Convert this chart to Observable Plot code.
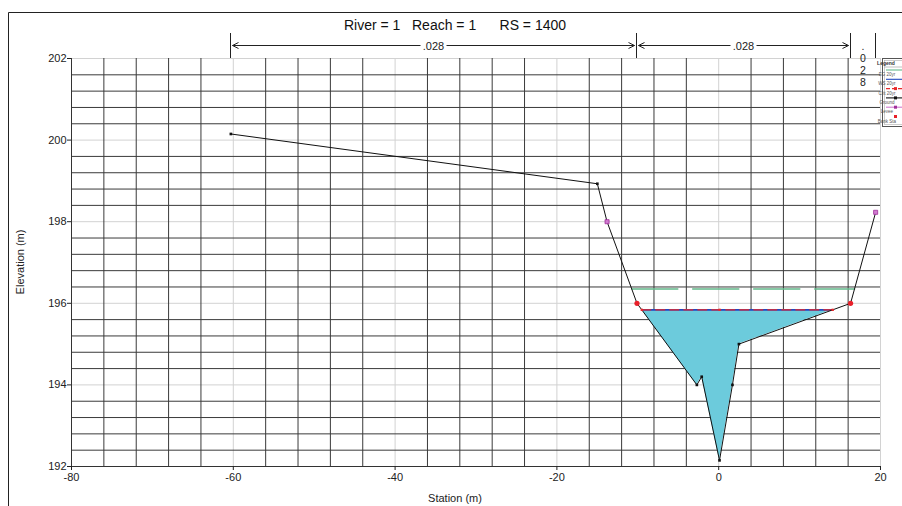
<!DOCTYPE html>
<html><head><meta charset="utf-8">
<script src="https://cdn.jsdelivr.net/npm/d3@7"></script>
<script src="https://cdn.jsdelivr.net/npm/@observablehq/plot@0.6"></script>
<style>body{margin:0;background:#fff;} svg{display:block;}</style>
</head><body><div id="chart"></div>
<script>
// ---- data ----
const titleText = "River = 1   Reach = 1      RS = 1400";
const groundStation = [-60.3, -15.0, -13.8, -10.1, -2.7, -2.1, 0.1, 1.7, 2.5, 16.3, 19.4];
const groundElev    = [200.15, 198.93, 198.0, 196.0, 194.0, 194.2, 192.15, 194.0, 195.0, 196.0, 198.23];
const leveeStation = [-13.8, 19.4];
const leveeElev    = [198.0, 198.23];
const bankStation  = [-10.1, 16.3];
const bankElev     = [196.0, 196.0];
const wsElev = 195.84;
const critElev = 195.84;
const egElev = 196.35;
const nValues = [".028", ".028", ".028"];
const xTicks = [-80, -60, -40, -20, 0, 20];
const yTicks = [192, 194, 196, 198, 200, 202];
const legendLabels = ["EG 20yr", "WS 20yr", "Crit 20yr", "Ground", "Levee", "Bank Sta"];

// ---- derived ----
const ground = groundStation.map((s, i) => ({x: s, y: groundElev[i]}));
function crossings(level) {
  const out = [];
  for (let i = 0; i < ground.length - 1; i++) {
    const a = ground[i], b = ground[i + 1];
    if ((a.y - level) * (b.y - level) < 0) out.push(a.x + (level - a.y) / (b.y - a.y) * (b.x - a.x));
  }
  return out;
}
const wsX = crossings(wsElev);
const egX = crossings(egElev);
const wsL = wsX[0], wsR = wsX[wsX.length - 1];
const water = [{x: wsL, g: wsElev, w: wsElev}]
  .concat(ground.filter(d => d.x > wsL && d.x < wsR).map(d => ({x: d.x, g: d.y, w: wsElev})))
  .concat([{x: wsR, g: wsElev, w: wsElev}]);
const egLine = egX.length >= 2 ? [{x: egX[0], y: egElev}, {x: egX[egX.length - 1], y: egElev}] : [];
const wsLine = [{x: wsL, y: wsElev}, {x: wsR, y: wsElev}];
const critLine = [{x: wsL, y: critElev}, {x: wsR, y: critElev}];
const thalweg = ground.reduce((m, d) => d.y < m.y ? d : m);
const critPts = [{x: wsL, y: critElev}, {x: thalweg.x, y: critElev}, {x: wsR, y: critElev}];
const levees = leveeStation.map((s, i) => ({x: s, y: leveeElev[i]}));
const banks = bankStation.map((s, i) => ({x: s, y: bankElev[i]}));

const xGrid = d3.range(0, 26).map(i => -80 + i * 4);
const yGrid = d3.range(0, 26).map(i => +(192 + i * 0.4).toFixed(1));
const isMul = (v, m) => Math.abs(v / m - Math.round(v / m)) < 1e-6;
const xMinor = xGrid.filter(v => !isMul(v, 20)), xMajor = xGrid.filter(v => isMul(v, 20));
const yMinor = yGrid.filter(v => !isMul(v, 2)), yMajor = yGrid.filter(v => isMul(v, 2));

const FONT = "Liberation Sans, Arial, Helvetica, sans-serif";
const minorC = "#3a3a3a", majorC = "#d2d2d2";
const fmt = d => String(d);

const plot = Plot.plot({
  width: 902, height: 506,
  marginLeft: 71, marginRight: 22, marginTop: 58, marginBottom: 40,
  style: {fontFamily: FONT, fontSize: "11px", background: "#fff", color: "#222"},
  x: {domain: [-80, 20]},
  y: {domain: [192, 202]},
  marks: [
    Plot.ruleX(xMajor, {stroke: majorC}),
    Plot.ruleY(yMajor, {stroke: majorC}),
    Plot.ruleX(xMinor, {stroke: minorC}),
    Plot.ruleY(yMinor, {stroke: minorC}),
    Plot.areaY(water, {x: "x", y1: "g", y2: "w", fill: "#6ccbdc", curve: "linear"}),
    Plot.line(egLine, {x: "x", y: "y", stroke: "#63b98a", strokeWidth: 1.6, strokeDasharray: "46,15"}),
    Plot.line(wsLine, {x: "x", y: "y", stroke: "#2148c0", strokeWidth: 1.6}),
    Plot.line(critLine, {x: "x", y: "y", stroke: "#e8282a", strokeWidth: 1.3, strokeDasharray: "9,5"}),
    Plot.line(ground, {x: "x", y: "y", stroke: "#111", strokeWidth: 1}),
    Plot.dot(ground, {x: "x", y: "y", symbol: "square", r: 1.5, fill: "#111"}),
    Plot.dot(critPts, {x: "x", y: "y", symbol: "square", r: 1.3, fill: "#e8282a"}),
    Plot.dot(levees, {x: "x", y: "y", symbol: "square", r: 2.3, fill: "#d07ad0", stroke: "#a0309a", strokeWidth: 0.8}),
    Plot.dot(banks, {x: "x", y: "y", r: 2.6, fill: "#e8202a"}),
    Plot.ruleX([-80], {stroke: "#333"}),
    Plot.ruleY([192], {stroke: "#333"}),
    Plot.axisX(xTicks, {tickSize: 4, tickPadding: 3, label: null, fontSize: 11, tickFormat: fmt}),
    Plot.axisY(yTicks, {tickSize: 4, tickPadding: 1, label: null, fontSize: 11, tickFormat: fmt})
  ]
});
document.getElementById("chart").appendChild(plot);

// ---- annotations positioned through the plot's scales ----
const svg = d3.select(plot);
const X = plot.scale("x"), Y = plot.scale("y");
const sx = v => X.apply(v);
const g = svg.append("g").attr("font-family", FONT);

// outer frame (left and top)
g.append("path").attr("d", "M8.5,506 V12.5 H902").attr("stroke", "#222").attr("fill", "none");

// title
g.append("text").attr("x", 455).attr("y", 30).attr("text-anchor", "middle").attr("xml:space", "preserve")
  .attr("font-size", 14).attr("fill", "#111").style("white-space", "pre").text(titleText);

// axis labels
g.append("text").attr("x", 455).attr("y", 502).attr("text-anchor", "middle")
  .attr("font-size", 11).attr("fill", "#222").text("Station (m)");
g.append("text").attr("transform", "translate(24,262) rotate(-90)").attr("text-anchor", "middle")
  .attr("font-size", 11).attr("fill", "#222").text("Elevation (m)");

// Manning's n boundaries
const bounds = [groundStation[0], bankStation[0], bankStation[1], groundStation[groundStation.length - 1]];
bounds.forEach(b => {
  const px = Math.round(sx(b)) + 0.5;
  g.append("line").attr("x1", px).attr("x2", px).attr("y1", 33).attr("y2", 58).attr("stroke", "#222");
});
const ay = 45.5;
for (let i = 0; i < bounds.length - 1; i++) {
  const x0 = Math.round(sx(bounds[i])) + 0.5, x1 = Math.round(sx(bounds[i + 1])) + 0.5;
  const label = nValues[i];
  const cx = (x0 + x1) / 2;
  if (x1 - x0 > 60) {
    const a = x0 + 2, b = x1 - 2;
    g.append("line").attr("x1", a).attr("x2", b).attr("y1", ay).attr("y2", ay).attr("stroke", "#222");
    g.append("path").attr("d", `M${a + 6},${ay - 3} L${a},${ay} L${a + 6},${ay + 3}`).attr("stroke", "#222").attr("fill", "none");
    g.append("path").attr("d", `M${b - 6},${ay - 3} L${b},${ay} L${b - 6},${ay + 3}`).attr("stroke", "#222").attr("fill", "none");
    g.append("rect").attr("x", cx - 13).attr("y", ay - 7).attr("width", 26).attr("height", 13).attr("fill", "#fff");
    g.append("text").attr("x", cx).attr("y", ay + 4).attr("text-anchor", "middle").attr("font-size", 11)
      .attr("fill", "#222").text(label);
  } else {
    // too narrow: write the value vertically, one character per line
    label.split("").forEach((ch, k) => {
      g.append("text").attr("x", cx).attr("y", 50 + k * 12).attr("text-anchor", "middle")
        .attr("font-size", 10.5).attr("fill", "#222").text(ch);
    });
  }
}

// legend (clipped at the right edge, as in the reference)
const lx = 882, ly = 58, lw = 34, lh = 68;
const lg = g.append("g");
lg.append("rect").attr("x", lx + 0.5).attr("y", ly + 0.5).attr("width", lw).attr("height", lh).attr("fill", "#fff").attr("stroke", "#555");
lg.append("rect").attr("x", lx + 2.5).attr("y", ly + 2.5).attr("width", lw - 4).attr("height", lh - 4).attr("fill", "none").attr("stroke", "#aaa").attr("stroke-width", 0.6);
lg.append("text").attr("x", lx + 4).attr("y", ly + 7).attr("font-size", 5).attr("font-weight", "bold").attr("fill", "#333").text("Legend");
lg.append("line").attr("x1", lx + 2.5).attr("x2", lx + lw).attr("y1", ly + 9).attr("y2", ly + 9).attr("stroke", "#999").attr("stroke-width", 0.6);
const legendStyles = [
  {stroke: "#63b98a", dash: null, marker: null},
  {stroke: "#2148c0", dash: null, marker: null},
  {stroke: "#e8282a", dash: "4,2", marker: "#e8282a"},
  {stroke: "#111", dash: null, marker: "#111"},
  {stroke: "#d07ad0", dash: null, marker: "#a0309a"},
  {stroke: null, dash: null, marker: "#e8202a"}
];
legendLabels.forEach((lab, k) => {
  const yy = ly + 12 + k * 9.3;
  const st = legendStyles[k];
  if (st.stroke) {
    const ln = lg.append("line").attr("x1", lx + 4).attr("x2", lx + lw).attr("y1", yy).attr("y2", yy)
      .attr("stroke", st.stroke).attr("stroke-width", 1.1);
    if (st.dash) ln.attr("stroke-dasharray", st.dash);
  }
  if (st.marker) lg.append("rect").attr("x", lx + 12).attr("y", yy - 1.5).attr("width", 3).attr("height", 3).attr("fill", st.marker);
  lg.append("text").attr("x", lx + 5).attr("y", yy + 6).attr("font-size", 4.5).attr("fill", "#555").text(lab);
});
</script></body></html>
